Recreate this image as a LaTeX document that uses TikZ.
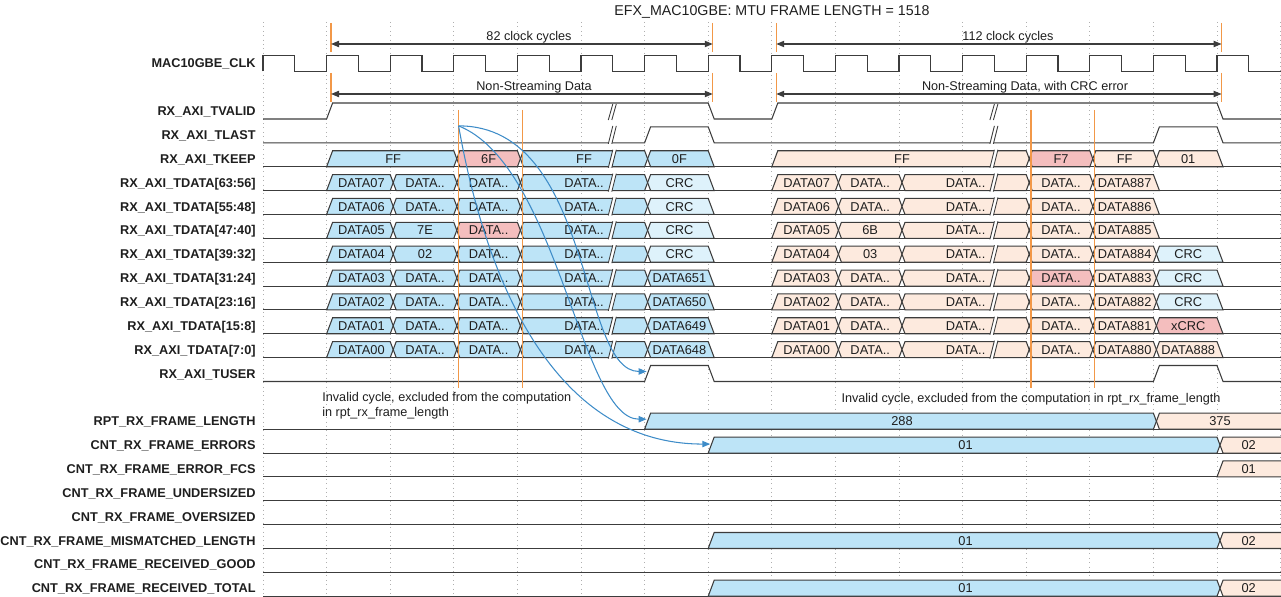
\documentclass[tikz,border=0pt]{standalone}
\usepackage{fontspec}
\setmainfont{Liberation Sans}
\usetikzlibrary{arrows.meta}

\definecolor{busblue}{RGB}{189,228,247}
\definecolor{crcblue}{RGB}{222,242,251}
\definecolor{errred}{RGB}{244,190,190}
\definecolor{peach}{RGB}{253,234,222}
\definecolor{markorange}{RGB}{242,152,72}
\definecolor{flowblue}{RGB}{62,140,200}
\definecolor{wire}{RGB}{60,60,60}
\definecolor{gridgray}{RGB}{175,175,175}
\definecolor{ink}{RGB}{30,30,30}

\newcommand{\xk}[1]{263+63.6*(#1)}
\newcommand{\yr}[1]{63.3+23.86*(#1)}
\newcommand{\buscell}[8]{%
  \filldraw[cellbox, fill=#1] ({\xk{#3}+#4},{\yr{#2}+8}) -- ({\xk{#3}+3},{\yr{#2}}) -- ({\xk{#3}+6},{\yr{#2}-8})
    -- ({\xk{#5}},{\yr{#2}-8}) -- ({\xk{#5}+3},{\yr{#2}}) -- ({\xk{#5}+#6},{\yr{#2}+8}) -- cycle;
  \node[celltext] (c#2-#3) at ({\xk{#7}+3},{\yr{#2}}) {#8};}
\newcommand{\sigbreak}[3][-9]{%
  \fill[white] ({\xk{#3}-4.5},{\yr{#2}+9}) -- ({\xk{#3}},{\yr{#2}+#1}) -- ({\xk{#3}+3.5},{\yr{#2}+#1}) -- ({\xk{#3}-1},{\yr{#2}+9}) -- cycle;
  \draw[wire, line width=0.5pt] ({\xk{#3}-4.5},{\yr{#2}+9}) -- ({\xk{#3}},{\yr{#2}+#1})
    ({\xk{#3}-1},{\yr{#2}+9}) -- ({\xk{#3}+3.5},{\yr{#2}+#1});}

\begin{document}
\begin{tikzpicture}[x=0.02cm, y=-0.02cm,
    cellbox/.style={draw=wire, line width=0.6pt},
    wirepath/.style={draw=wire, line width=0.6pt},
    idle/.style={draw=wire, line width=0.6pt},
    gridline/.style={gridgray, dotted, line width=0.5pt},
    edgemark/.style={markorange, line width=0.8pt},
    dimarrow/.style={{Triangle[length=4.5pt,width=3.6pt]}-{Triangle[length=4.5pt,width=3.6pt]}, wire, line width=0.6pt},
    flowarrow/.style={-{Triangle[length=4.5pt,width=3.6pt]}, flowblue, line width=0.6pt},
    celltext/.style={font=\fontsize{7.3}{8}\selectfont, text=ink, inner sep=0pt, text height=5.2pt, text depth=0pt},
    signame/.style={font=\fontsize{7.25}{8}\selectfont\bfseries, text=ink, anchor=east, inner sep=0pt, text height=5.2pt, text depth=0pt},
    note/.style={font=\fontsize{7.2}{8.5}\selectfont, text=ink, inner sep=0pt}
  ]
  \useasboundingbox (0,0) rectangle (1281,597);
  \clip (0,0) rectangle (1281,597);

  \foreach \k in {0,...,16}
    \draw[gridline] ({\xk{\k}},22) -- ({\xk{\k}},597);
  \foreach \row in {4,...,12,15,16,...,22}
    \draw[idle] (263,{\yr{\row}+8}) -- (1281,{\yr{\row}+8});

  \draw[wirepath] (263,{\yr{0}+8}) \foreach \k in {0,...,15} {
    -- ({\xk{\k}},{\yr{0}-8}) -- ({\xk{\k}+31.8},{\yr{0}-8}) -- ({\xk{\k}+31.8},{\yr{0}+8}) -- ({\xk{\k+1}},{\yr{0}+8})};

  \begin{scope}[shift={(0,{\yr{2}})}]
    \draw[wirepath] (263,8) -- ({\xk{1}},8) -- ({\xk{1}+6},-8) -- ({\xk{7}},-8) -- ({\xk{7}+6},8) -- ({\xk{8}},8)
      -- ({\xk{8}+6},-8) -- ({\xk{15}},-8) -- ({\xk{15}+6},8) -- (1281,8);
  \end{scope}
  \foreach \row in {3,13} {
    \begin{scope}[shift={(0,{\yr{\row}})}]
      \draw[wirepath] (263,8) -- ({\xk{6}},8) -- ({\xk{6}+6},-8) -- ({\xk{7}},-8) -- ({\xk{7}+6},8) -- ({\xk{14}},8)
        -- ({\xk{14}+6},-8) -- ({\xk{15}},-8) -- ({\xk{15}+6},8) -- (1281,8);
    \end{scope}
  }

  \buscell{busblue}{4}{1}{0}{3}{0}{2}{FF}
  \buscell{errred}{4}{3}{6}{4}{0}{3.5}{6F}
  \buscell{busblue}{4}{4}{6}{6}{0}{5}{FF}
  \buscell{busblue}{4}{6}{6}{7}{6}{6.5}{0F}
  \buscell{peach}{4}{8}{0}{12}{0}{10}{FF}
  \buscell{errred}{4}{12}{6}{13}{0}{12.5}{F7}
  \buscell{peach}{4}{13}{6}{14}{0}{13.5}{FF}
  \buscell{peach}{4}{14}{6}{15}{6}{14.5}{01}

  \foreach \row/\va/\vb/\vcf/\vl/\vlf in {
      5/DATA07/DATA../busblue/CRC/crcblue,
      6/DATA06/DATA../busblue/CRC/crcblue,
      7/DATA05/7E/errred/CRC/crcblue,
      8/DATA04/02/busblue/CRC/crcblue,
      9/DATA03/DATA../busblue/DATA651/busblue,
      10/DATA02/DATA../busblue/DATA650/busblue,
      11/DATA01/DATA../busblue/DATA649/busblue,
      12/DATA00/DATA../busblue/DATA648/busblue} {
    \buscell{busblue}{\row}{1}{0}{2}{0}{1.5}{\va}
    \buscell{busblue}{\row}{2}{6}{3}{0}{2.5}{\vb}
    \buscell{\vcf}{\row}{3}{6}{4}{0}{3.5}{DATA..}
    \buscell{busblue}{\row}{4}{6}{6}{0}{5}{DATA..}
    \buscell{\vlf}{\row}{6}{6}{7}{6}{6.5}{\vl}
  }

  \foreach \row/\va/\vb/\vdf/\ve/\vend in {
      5/DATA07/DATA../peach/DATA887/6,
      6/DATA06/DATA../peach/DATA886/6,
      7/DATA05/6B/peach/DATA885/6,
      8/DATA04/03/peach/DATA884/0,
      9/DATA03/DATA../errred/DATA883/0,
      10/DATA02/DATA../peach/DATA882/0,
      11/DATA01/DATA../peach/DATA881/0,
      12/DATA00/DATA../peach/DATA880/0} {
    \buscell{peach}{\row}{8}{0}{9}{0}{8.5}{\va}
    \buscell{peach}{\row}{9}{6}{10}{0}{9.5}{\vb}
    \buscell{peach}{\row}{10}{6}{12}{0}{11}{DATA..}
    \buscell{\vdf}{\row}{12}{6}{13}{0}{12.5}{DATA..}
    \buscell{peach}{\row}{13}{6}{14}{\vend}{13.5}{\ve}
  }
  \foreach \row/\vf/\vff in {8/CRC/crcblue, 9/CRC/crcblue, 10/CRC/crcblue, 11/xCRC/errred, 12/DATA888/peach} {
    \buscell{\vff}{\row}{14}{6}{15}{6}{14.5}{\vf}
  }

  \buscell{busblue}{15}{6}{0}{14}{0}{10}{288}
  \buscell{peach}{15}{14}{6}{16.6}{0}{15}{375}
  \foreach \row in {16,20,22} {
    \buscell{busblue}{\row}{7}{0}{15}{0}{11}{01}
    \buscell{peach}{\row}{15}{6}{16.6}{0}{15.45}{02}
  }
  \buscell{peach}{17}{15}{0}{16.6}{0}{15.45}{01}

  \sigbreak[-7]{2}{5.5}
  \sigbreak[-7]{2}{11.5}
  \foreach \row in {3,...,12} {
    \sigbreak{\row}{5.5}
    \sigbreak{\row}{11.5}
  }

  \foreach \k in {1,7,8,15} {
    \draw[edgemark] ({\xk{\k}+4.5},23) -- ++(0,29);
    \draw[edgemark] ({\xk{\k}+4.5},73) -- ++(0,29);
  }
  \foreach \k in {3,4,12,13}
    \draw[edgemark] ({\xk{\k}+4.8},110) -- ({\xk{\k}+4.8},388);

  \coordinate (cycAa) at ({\xk{1}+4.5},44);
  \coordinate (cycAb) at ({\xk{7}+4.5},44);
  \coordinate (cycBa) at ({\xk{8}+4.5},44);
  \coordinate (cycBb) at ({\xk{15}+4.5},44);
  \coordinate (spanAa) at ({\xk{1}+4.5},94);
  \coordinate (spanAb) at ({\xk{7}+4.5},94);
  \coordinate (spanBa) at ({\xk{8}+4.5},94);
  \coordinate (spanBb) at ({\xk{15}+4.5},94);
  \draw[dimarrow] (cycAa) -- (cycAb);
  \draw[dimarrow] (cycBa) -- (cycBb);
  \draw[dimarrow] (spanAa) -- (spanAb);
  \draw[dimarrow] (spanBa) -- (spanBb);

  \coordinate (lastpt) at ({\xk{3}+4.8},{\yr{3}-9});
  \coordinate (userpt) at ({\xk{6}+2},{\yr{13}-2});
  \coordinate (lenpt) at ({\xk{6}+2},{\yr{15}-2});
  \coordinate (errpt) at ({\xk{7}+2},{\yr{16}-1});
  \draw[flowarrow] (lastpt) .. controls +(135,0) and +(-68,0) .. (userpt);
  \draw[flowarrow] (lastpt) .. controls +(100,40) and +(-66,0) .. (lenpt);
  \draw[flowarrow] (lastpt) .. controls +(30,170) and +(-149,0) .. (errpt);

  \foreach \row/\name in {0/MAC10GBE\_CLK, 2/RX\_AXI\_TVALID, 3/RX\_AXI\_TLAST, 4/RX\_AXI\_TKEEP,
      5/RX\_AXI\_TDATA[63:56], 6/RX\_AXI\_TDATA[55:48], 7/RX\_AXI\_TDATA[47:40], 8/RX\_AXI\_TDATA[39:32],
      9/RX\_AXI\_TDATA[31:24], 10/RX\_AXI\_TDATA[23:16], 11/RX\_AXI\_TDATA[15:8], 12/RX\_AXI\_TDATA[7:0],
      13/RX\_AXI\_TUSER, 15/RPT\_RX\_FRAME\_LENGTH, 16/CNT\_RX\_FRAME\_ERRORS, 17/CNT\_RX\_FRAME\_ERROR\_FCS,
      18/CNT\_RX\_FRAME\_UNDERSIZED, 19/CNT\_RX\_FRAME\_OVERSIZED, 20/CNT\_RX\_FRAME\_MISMATCHED\_LENGTH,
      21/CNT\_RX\_FRAME\_RECEIVED\_GOOD, 22/CNT\_RX\_FRAME\_RECEIVED\_TOTAL}
    \node[signame] (sig\row) at (256,{\yr{\row}}) {\name};

  \node[note, font=\fontsize{8.1}{9}\selectfont] (title) at (772,12) {EFX\_MAC10GBE: MTU FRAME LENGTH = 1518};
  \node[note] (cycA) at (529,37) {82 clock cycles};
  \node[note] (cycB) at (1008,37) {112 clock cycles};
  \node[note] (spanA) at (534,87) {Non-Streaming Data};
  \node[note] (spanB) at (1025,87) {Non-Streaming Data, with CRC error};
  \node[note, anchor=west, align=left] (skipA) at (322,405.5) {Invalid cycle, excluded from the computation\\in rpt\_rx\_frame\_length};
  \node[note] (skipB) at (1031,399) {Invalid cycle, excluded from the computation in rpt\_rx\_frame\_length};
\end{tikzpicture}
\end{document}
